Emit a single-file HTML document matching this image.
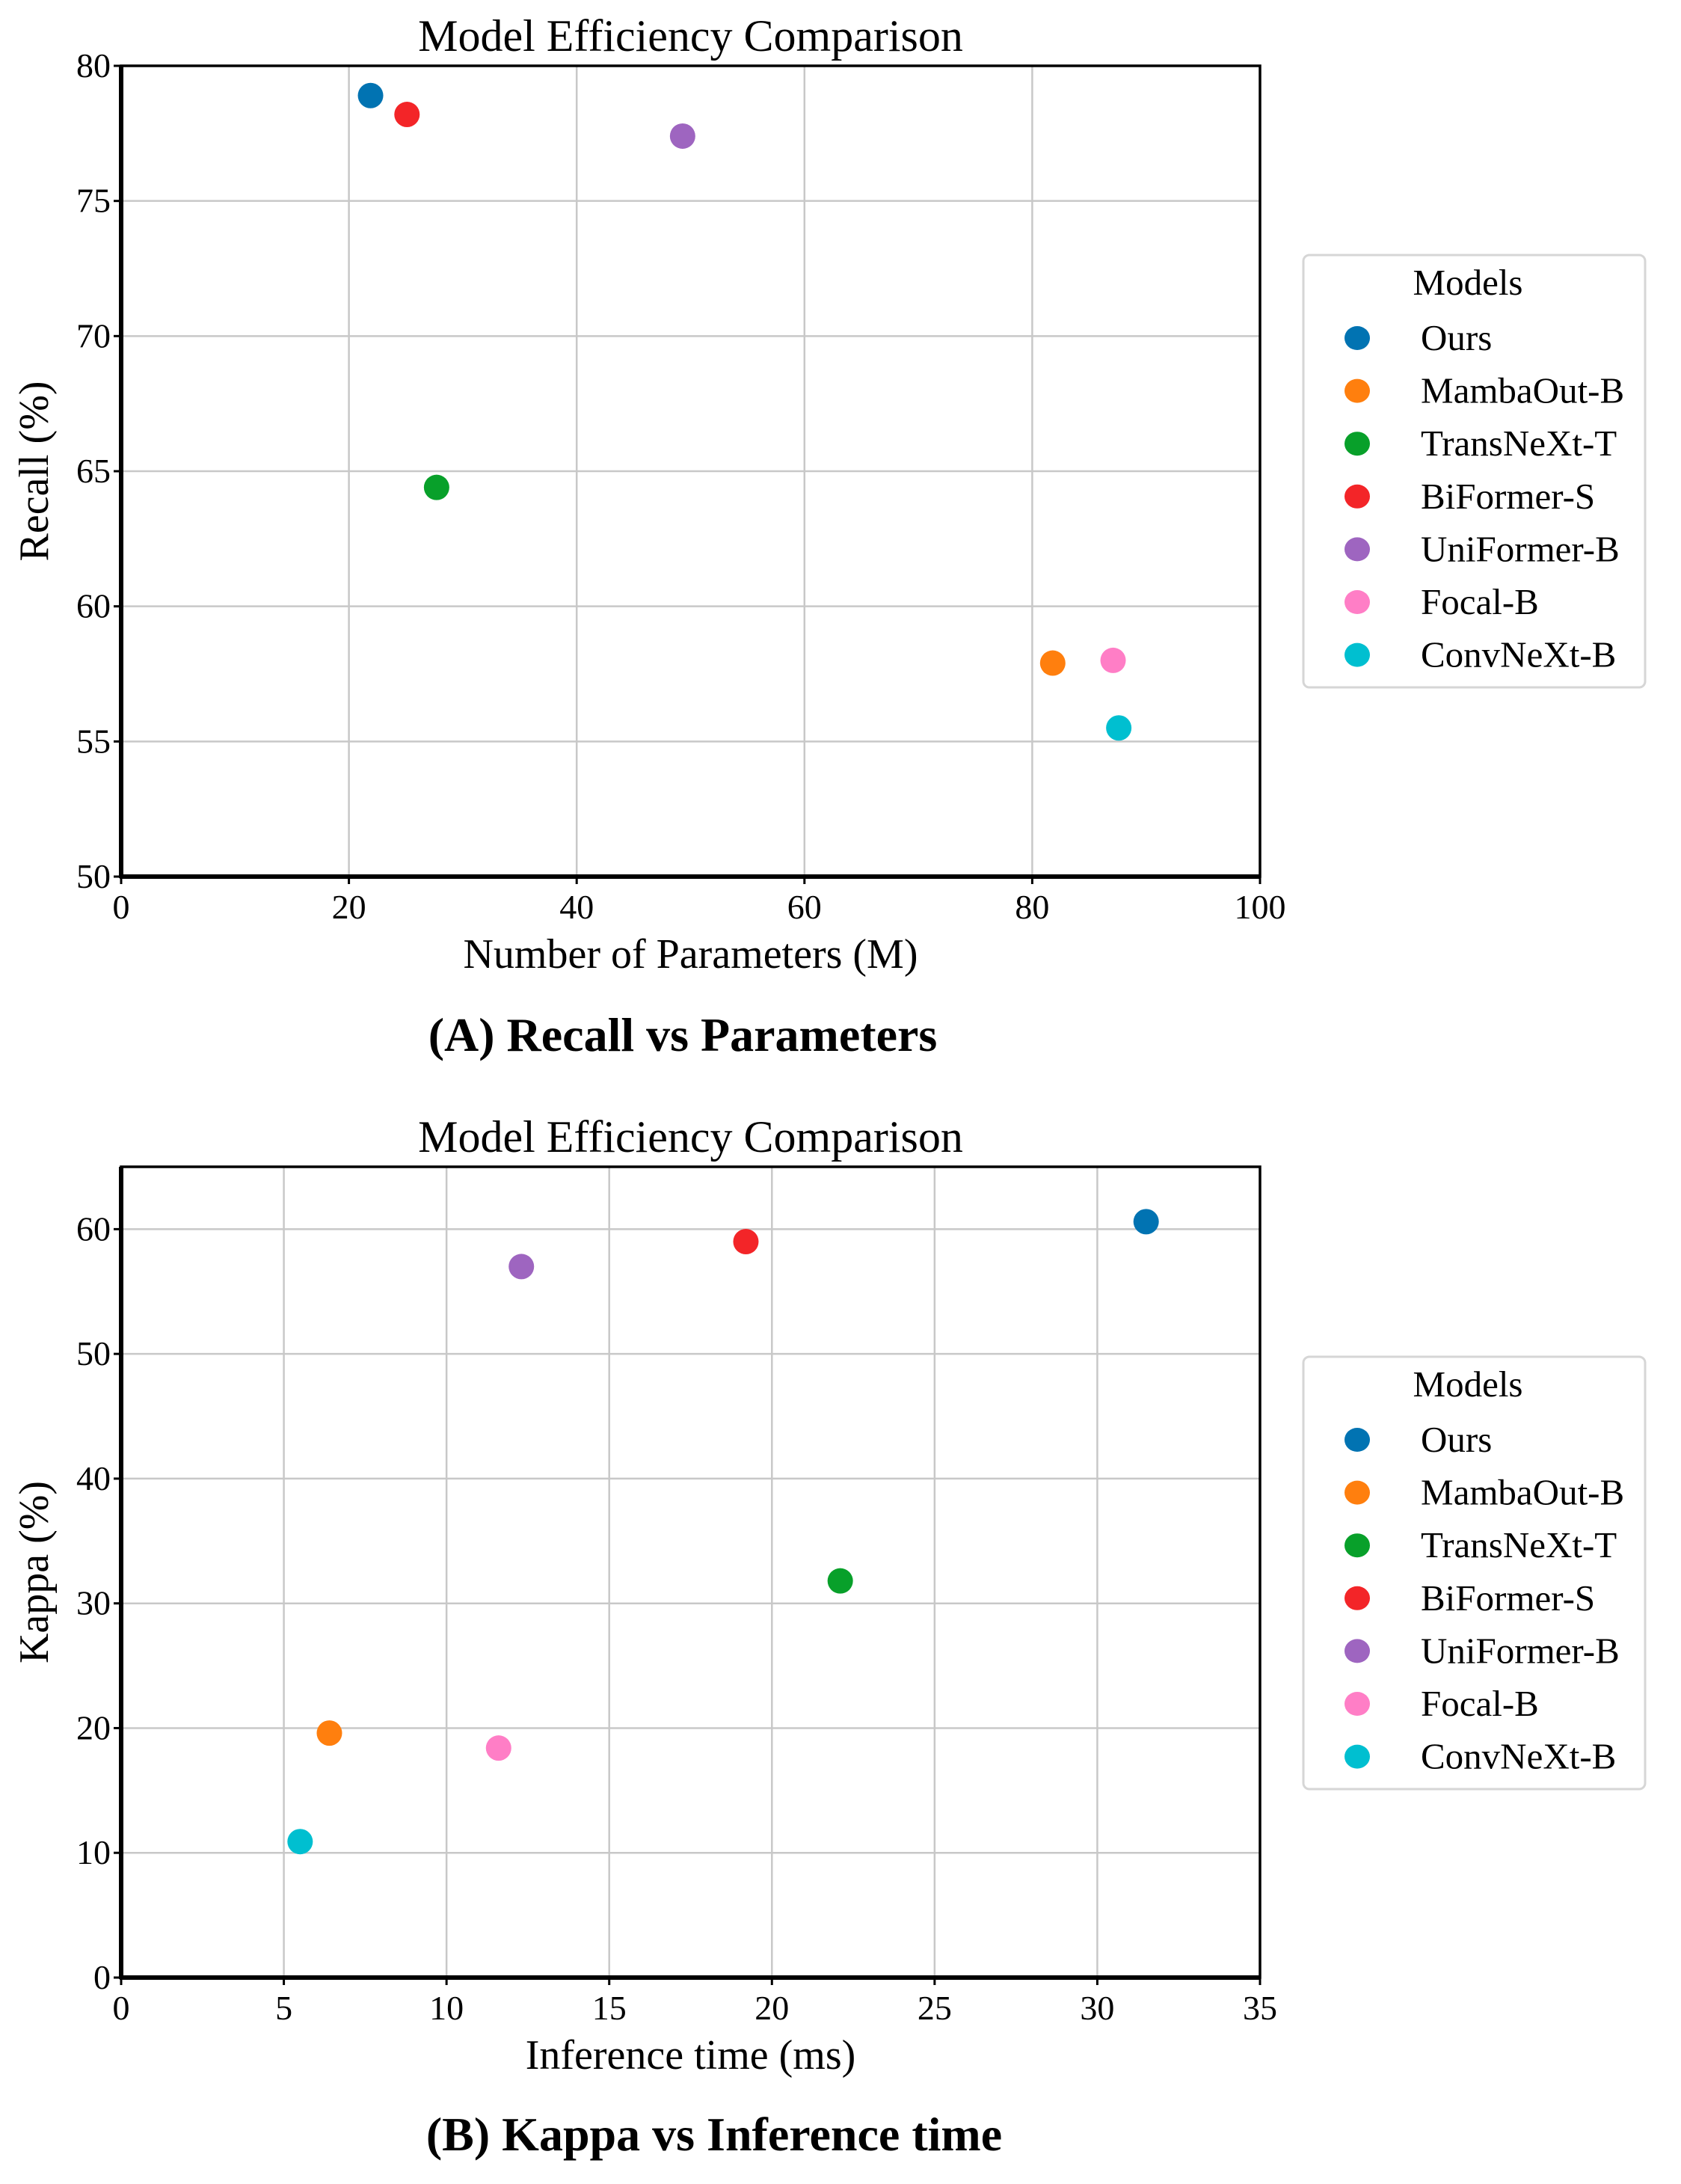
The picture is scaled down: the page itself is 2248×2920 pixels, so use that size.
<!DOCTYPE html>
<html><head><meta charset="utf-8"><style>
html,body{margin:0;padding:0;background:#fff;}
svg{display:block;font-family:"Liberation Serif",serif;}
</style></head><body>
<svg id="fig" width="2248" height="2920" viewBox="0 0 2248 2920" xmlns="http://www.w3.org/2000/svg"></svg>
<script>
const models = ["Ours","MambaOut-B","TransNeXt-T","BiFormer-S","UniFormer-B","Focal-B","ConvNeXt-B"];
const colors = ["#1f77b4","#ff7f0e","#2ca02c","#d62728","#9467bd","#e377c2","#17becf"];
const paramsA = [21.9,81.8,27.7,25.1,49.3,87.1,87.6];
const recallA = [78.9,57.9,64.4,78.2,77.4,58.0,55.5];
const timeB = [31.5,6.4,22.1,19.2,12.3,11.6,5.5];
const kappaB = [60.6,19.6,31.8,59.0,57.0,18.4,10.9];
const xTicksA = [0,20,40,60,80,100];
const yTicksA = [50,55,60,65,70,75,80];
const xTicksB = [0,5,10,15,20,25,30,35];
const yTicksB = [0,10,20,30,40,50,60];
const fills = ["#0173b2","#ff7f0e","#08a02a","#f32528","#9e65c0","#ff7ec6","#00bfd0"];

const NS="http://www.w3.org/2000/svg";
const svg=document.getElementById('fig');
function mk(tag,attrs,parent,text){const e=document.createElementNS(NS,tag);for(const k in attrs)e.setAttribute(k,attrs[k]);if(text!==undefined)e.textContent=text;(parent||svg).appendChild(e);return e;}

function panel(cfg){
  const g=mk('g',{});
  
  
  const L=162,R=1685,T=cfg.top,B=cfg.bottom;
  const sx=v=>L+(v-cfg.xmin)/(cfg.xmax-cfg.xmin)*(R-L);
  const sy=v=>B-(v-cfg.ymin)/(cfg.ymax-cfg.ymin)*(B-T);
  cfg.xt.forEach(v=>{const l=mk('line',{x1:sx(v),x2:sx(v),y1:T,y2:B,stroke:'#c8c8c8','stroke-width':2.5},g);});
  cfg.yt.forEach(v=>{const l=mk('line',{x1:L,x2:R,y1:sy(v),y2:sy(v),stroke:'#c8c8c8','stroke-width':2.5},g);});
  const fr=mk('rect',{x:L,y:T,width:R-L,height:B-T,fill:'none',stroke:'#000','stroke-width':3.5},g);
  
  mk('line',{x1:L,x2:L,y1:T,y2:B+2,stroke:'#000','stroke-width':6},g);
  mk('line',{x1:L-2,x2:R,y1:B,y2:B,stroke:'#000','stroke-width':6},g);
  cfg.xt.forEach(v=>{mk('line',{x1:sx(v),x2:sx(v),y1:B,y2:B+10,stroke:'#000','stroke-width':3},g);
    const t=mk('text',{x:sx(v),y:B+56,'font-size':46,'text-anchor':'middle'},g,String(v));});
  cfg.yt.forEach(v=>{mk('line',{x1:L-10,x2:L,y1:sy(v),y2:sy(v),stroke:'#000','stroke-width':3},g);
    const t=mk('text',{x:L-14,y:sy(v)+15,'font-size':46,'text-anchor':'end'},g,String(v));});
  const ti=mk('text',{x:(L+R)/2,y:T-20,'font-size':60,'text-anchor':'middle'},g,'Model Efficiency Comparison');
  
  const xl=mk('text',{x:(L+R)/2,y:B+122,'font-size':56,'text-anchor':'middle'},g,cfg.xlabel);
  
  const yl=mk('text',{x:0,y:0,'font-size':56,'text-anchor':'middle',transform:`translate(64,${(T+B)/2}) rotate(-90)`},g,cfg.ylabel);
  
  const cap=mk('text',{x:cfg.capX,y:cfg.capY,'font-size':64,'font-weight':'bold','text-anchor':'middle'},g,cfg.caption);
  
  cfg.xs.forEach((xv,i)=>{const c=mk('ellipse',{cx:sx(xv),cy:sy(cfg.ys[i]),rx:17,ry:17,fill:fills[i]},g);
    });
  const lg=mk('g',{},g);
  
  mk('rect',{x:1743,y:cfg.legTop,width:457,height:578,rx:8,fill:'#fff',stroke:'#d6d6d6','stroke-width':3},lg);
  const lt=mk('text',{x:1963,y:cfg.legTop+53,'font-size':49,'text-anchor':'middle'},lg,'Models');
  
  models.forEach((m,i)=>{const y=cfg.legTop+111+i*70.6;
    const e=mk('g',{},lg);
    mk('ellipse',{cx:1815,cy:y,rx:17,ry:16,fill:fills[i]},e);
    mk('text',{x:1900,y:y+16,'font-size':49},e,m);});
}
panel({name:'recall-vs-params-chart',top:88,bottom:1172,xmin:0,xmax:100,ymin:50,ymax:80,xt:xTicksA,yt:yTicksA,xs:paramsA,ys:recallA,xlabel:'Number of Parameters (M)',ylabel:'Recall (%)',caption:'(A) Recall vs Parameters',capX:913,capY:1405,legTop:341});
panel({name:'kappa-vs-time-chart',top:1560,bottom:2644,xmin:0,xmax:35,ymin:0,ymax:65,xt:xTicksB,yt:yTicksB,xs:timeB,ys:kappaB,xlabel:'Inference time (ms)',ylabel:'Kappa (%)',caption:'(B) Kappa vs Inference time',capX:955,capY:2875,legTop:1814});
</script>
</body></html>
